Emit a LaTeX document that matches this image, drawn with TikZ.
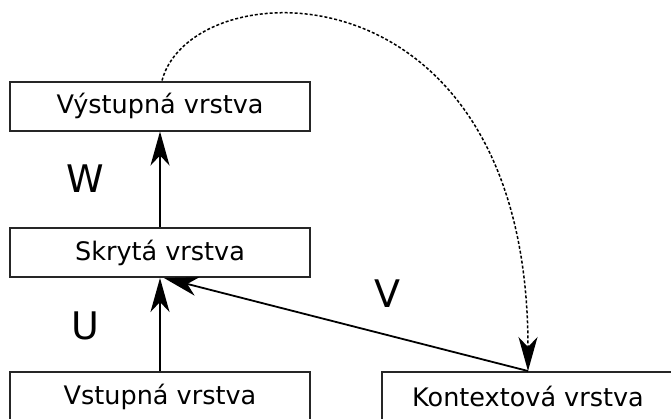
\documentclass[tikz,border=0pt]{standalone}
\usepackage{fontspec}
\setmainfont{DejaVu Sans}
\usetikzlibrary{arrows.meta}
\begin{document}
\begin{tikzpicture}[x=1pt,y=-1pt,
  layer/.style={draw=black!85, line width=2pt, minimum width=300pt, minimum height=49pt, inner sep=0pt, font=\fontsize{25.5}{29}\selectfont},
  conn/.style={line width=1.8pt, -{Stealth[length=34pt,width=19pt,inset=10pt]}},
  dashconn/.style={line width=1.5pt, dash pattern=on 3pt off 2pt, -{Stealth[length=34pt,width=19pt,inset=10pt]}},
  wlabel/.style={font=\fontsize{38}{42}\selectfont, inner sep=0pt}]
\useasboundingbox (0,0) rectangle (671,418);
\node[layer] (out) at (160,106) {Výstupná vrstva};
\node[layer] (hid) at (160,252.5) {Skrytá vrstva};
\node[layer] (inp) at (160,396.5) {Vstupná vrstva};
\node[layer, minimum width=292pt] (ctx) at (528,396.5) {Kontextová vrstva};
\node[wlabel] (w) at (85,179) {W};
\node[wlabel] (u) at (85,326) {U};
\node[wlabel] (v) at (387,294) {V};
\draw[conn] (hid.north) -- (out.south);
\draw[conn] (inp.north) -- (hid.south);
\draw[conn] (ctx.north) -- ([xshift=4pt]hid.south);
\draw[dashconn] ([xshift=2pt]out.north) .. controls (192,-32) and (528,-42) .. (ctx.north);
\end{tikzpicture}
\end{document}
